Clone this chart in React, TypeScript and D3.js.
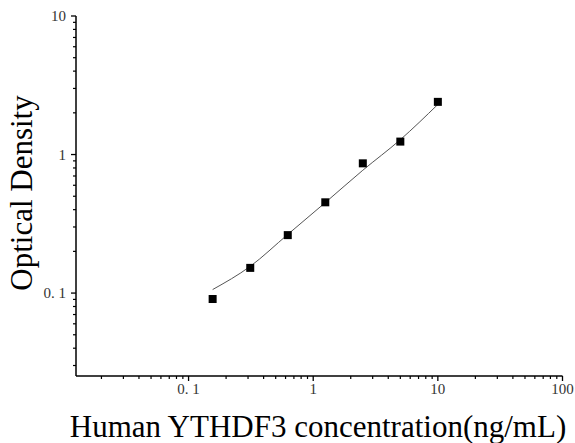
import React from "react";
import * as d3 from "d3";

const concentrations = [0.156, 0.3125, 0.625, 1.25, 2.5, 5, 10];
const odValues = [0.0906, 0.152, 0.262, 0.452, 0.864, 1.24, 2.4];
const fitValues = [0.106, 0.156, 0.265, 0.45, 0.77, 1.28, 2.3];
const xTickValues = [0.1, 1, 10, 100];
const xTickLabels = ["0. 1", "1", "10", "100"];
const yTickValues = [0.1, 1, 10];
const yTickLabels = ["0. 1", "1", "10"];
const xDomain = [0.0125, 100];
const yDomain = [0.0252, 10];
const xTitle = "Human YTHDF3 concentration(ng/mL)";
const yTitle = "Optical Density";

const W = 575;
const H = 443;
const L = 76;
const R = 562.5;
const T = 16;
const B = 376;

function minorTicks(domain: number[]) {
  const out: number[] = [];
  const lo = Math.floor(Math.log10(domain[0]));
  const hi = Math.ceil(Math.log10(domain[1]));
  for (let e = lo; e < hi; e++) {
    for (let m = 2; m <= 9; m++) {
      const v = m * Math.pow(10, e);
      if (v >= domain[0] && v <= domain[1]) out.push(v);
    }
  }
  return out;
}

export default function App() {
  const x = d3.scaleLog().domain(xDomain).range([L, R]);
  const y = d3.scaleLog().domain(yDomain).range([B, T]);
  const fitPts = concentrations.map((c, i) => [c, fitValues[i]] as [number, number]);
  const line = d3
    .line<[number, number]>()
    .x((d) => x(d[0]))
    .y((d) => y(d[1]))
    .curve(d3.curveMonotoneX);
  const font = "'Liberation Serif', 'Times New Roman', serif";
  const xMinor = minorTicks(xDomain);
  const yMinor = minorTicks(yDomain);
  const sq = 8;
  return (
    <svg
      width={W}
      height={H}
      style={{ position: "absolute", left: 0, top: 0, background: "#fff" }}
    >
      <rect x={0} y={0} width={W} height={H} fill="#fff" />
      <line x1={L} y1={B} x2={R} y2={B} stroke="#000" strokeWidth={1.5} />
      <line x1={L} y1={B} x2={L} y2={T} stroke="#000" strokeWidth={1.5} />
      {xTickValues.map((v, i) => (
        <g key={"xt" + i}>
          <line x1={x(v)} x2={x(v)} y1={B} y2={B + 5} stroke="#000" strokeWidth={1.3} />
          <text
            x={x(v)}
            y={B + 18}
            textAnchor="middle"
            fontFamily={font}
            fontSize={15}
            fill="#333"
          >
            {xTickLabels[i]}
          </text>
        </g>
      ))}
      {xMinor.map((v, i) => (
        <line key={"xm" + i} x1={x(v)} x2={x(v)} y1={B} y2={B + 3} stroke="#000" strokeWidth={1.2} />
      ))}
      {yTickValues.map((v, i) => (
        <g key={"yt" + i}>
          <line x1={L - 5} x2={L} y1={y(v)} y2={y(v)} stroke="#000" strokeWidth={1.3} />
          <text
            x={L - 10}
            y={y(v) + 5}
            textAnchor="end"
            fontFamily={font}
            fontSize={15}
            fill="#333"
          >
            {yTickLabels[i]}
          </text>
        </g>
      ))}
      {yMinor.map((v, i) => (
        <line key={"ym" + i} x1={L - 3} x2={L} y1={y(v)} y2={y(v)} stroke="#000" strokeWidth={1.2} />
      ))}
      <path d={line(fitPts) || ""} fill="none" stroke="#555" strokeWidth={1} />
      {concentrations.map((c, i) => (
        <rect
          key={"p" + i}
          x={x(c) - sq / 2}
          y={y(odValues[i]) - sq / 2}
          width={sq}
          height={sq}
          fill="#000"
        />
      ))}
      <text
        x={318}
        y={437}
        textAnchor="middle"
        fontFamily={font}
        fontSize={31}
        fill="#000"
      >
        {xTitle}
      </text>
      <text
        transform={`translate(32, 193) rotate(-90)`}
        textAnchor="middle"
        fontFamily={font}
        fontSize={31}
        fill="#000"
      >
        {yTitle}
      </text>
    </svg>
  );
}
